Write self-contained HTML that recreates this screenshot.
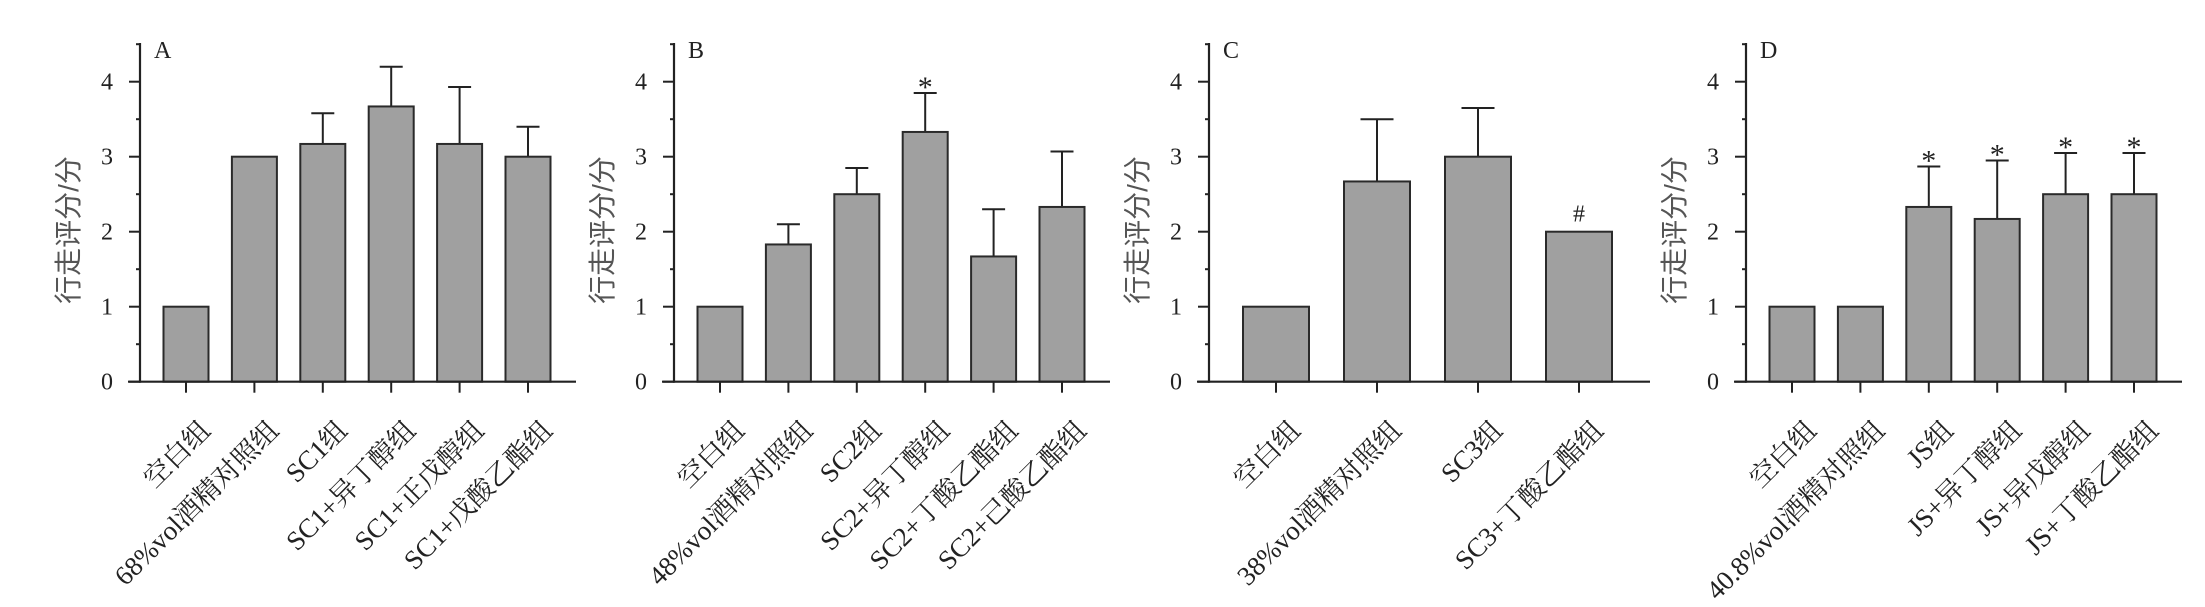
<!DOCTYPE html>
<html><head><meta charset="utf-8"><style>
html,body{margin:0;padding:0;background:#fff;}
svg{display:block;}
.t{font-family:"Liberation Serif","Noto Serif CJK SC",serif;font-size:24px;fill:#222;}
.st{font-family:"Liberation Serif","Noto Serif CJK SC",serif;font-size:30px;fill:#222;}
.xl{font-family:"Liberation Serif","Noto Serif CJK SC",serif;font-size:27px;fill:#222;}
.yl{font-family:"Liberation Sans","Noto Sans CJK SC",sans-serif;font-size:28px;fill:#555;}
</style></head><body>
<svg id="s" width="2205" height="607" viewBox="0 0 2205 607" xmlns="http://www.w3.org/2000/svg"></svg>
<script>
const S=document.getElementById('s');const NS='http://www.w3.org/2000/svg';
function el(t,a,txt){const e=document.createElementNS(NS,t);for(const k in a)e.setAttribute(k,a[k]);if(txt!==undefined)e.textContent=txt;S.appendChild(e);return e;}
const Y0=381.7,U=75;
function y(v){return Y0-v*U;}
const panels=[
 {ax:140,letter:'A',xs:null,w:45,cap:23,bars:[[1],[3],[3.17,3.58],[3.67,4.2],[3.17,3.93],[3.0,3.4]],labels:['空白组','68%vol酒精对照组','SC1组','SC1+异丁醇组','SC1+正戊醇组','SC1+戊酸乙酯组']},
 {ax:674,letter:'B',xs:null,w:45,cap:23,bars:[[1],[1.83,2.1],[2.5,2.85],[3.33,3.85,'*'],[1.67,2.3],[2.33,3.07]],labels:['空白组','48%vol酒精对照组','SC2组','SC2+异丁醇组','SC2+丁酸乙酯组','SC2+己酸乙酯组']},
 {ax:1209,letter:'C',xs:[67,168,269,370],w:66,cap:33,bars:[[1],[2.67,3.5],[3.0,3.65],[2.0,null,'#']],labels:['空白组','38%vol酒精对照组','SC3组','SC3+丁酸乙酯组']},
 {ax:1746,letter:'D',xs:null,w:45,cap:23,bars:[[1],[1],[2.33,2.87,'*'],[2.17,2.95,'*'],[2.5,3.05,'*'],[2.5,3.05,'*']],labels:['空白组','40.8%vol酒精对照组','JS组','JS+异丁醇组','JS+异戊醇组','JS+丁酸乙酯组']}
];
for(const p of panels){
 const ax=p.ax;
 const xs=p.xs||[0,1,2,3,4,5].map(i=>46+68.4*i);
 const end=p.xs?441:436;
 p.bars.forEach((b,i)=>{
  const cx=ax+xs[i];
  if(b[1]){el('line',{x1:cx,y1:y(b[0]),x2:cx,y2:y(b[1]),stroke:'#222','stroke-width':2});
   el('line',{x1:cx-p.cap/2,y1:y(b[1]),x2:cx+p.cap/2,y2:y(b[1]),stroke:'#222','stroke-width':2});}
  el('rect',{x:cx-p.w/2,y:y(b[0]),width:p.w,height:Y0-y(b[0]),fill:'#a0a0a0',stroke:'#2a2a2a','stroke-width':2});
  if(b[2]){const top=b[1]?y(b[1]):y(b[0]);
   if(b[2]=='*')el('text',{x:cx,y:top+4,'text-anchor':'middle',class:'st'},'*');
   else el('text',{x:cx,y:top-10,'text-anchor':'middle',class:'t'},b[2]);}
  el('line',{x1:cx,y1:Y0,x2:cx,y2:Y0+11,stroke:'#222','stroke-width':2});
  el('text',{x:cx+26,y:432,'text-anchor':'end',class:'xl',transform:`rotate(-45 ${cx+26} 432)`},p.labels[i]);
 });
 el('line',{x1:ax,y1:43,x2:ax,y2:Y0+1,stroke:'#222','stroke-width':2.2});
 el('line',{x1:ax-12,y1:Y0,x2:ax+end,y2:Y0,stroke:'#222','stroke-width':2.2});
 for(let v=0;v<=4.5;v+=0.5){
  const maj=Number.isInteger(v);
  el('line',{x1:ax-(maj?11:4),y1:y(v),x2:ax,y2:y(v),stroke:'#222','stroke-width':2});
  if(maj)el('text',{x:ax-27,y:y(v)+8,'text-anchor':'end',class:'t'},String(v));
 }
 el('text',{x:ax+14,y:58,class:'t'},p.letter);
 el('text',{x:ax-62,y:230,'text-anchor':'middle',class:'yl',transform:`rotate(-90 ${ax-62} 230)`},'行走评分/分');
}
</script>
</body></html>
